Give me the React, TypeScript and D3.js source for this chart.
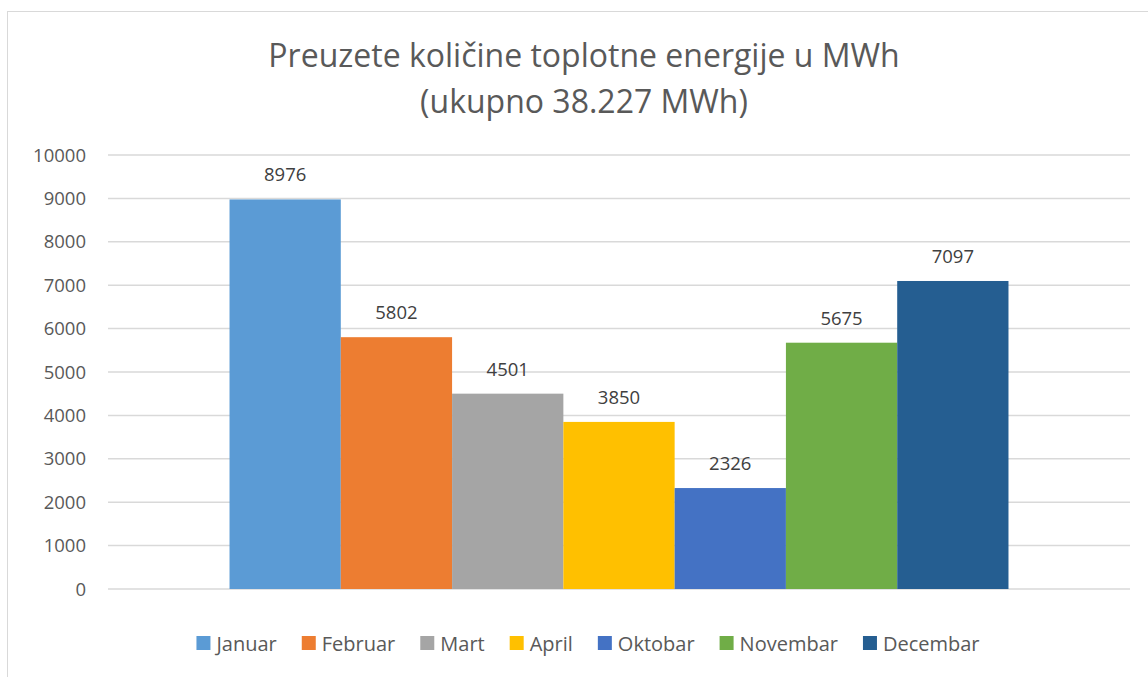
import React, { useRef, useEffect } from "react";
import * as d3 from "d3";

const months = ["Januar", "Februar", "Mart", "April", "Oktobar", "Novembar", "Decembar"];
const values = [8976, 5802, 4501, 3850, 2326, 5675, 7097];
const colors = ["#5B9BD5", "#ED7D31", "#A5A5A5", "#FFC000", "#4472C4", "#70AD47", "#255E91"];
const yTicks = [0, 1000, 2000, 3000, 4000, 5000, 6000, 7000, 8000, 9000, 10000];
const titleLines = ["Preuzete količine toplotne energije u MWh", "(ukupno 38.227 MWh)"];

const W = 1148;
const H = 677;
const FONT = "'Open Sans', 'Liberation Sans', sans-serif";

const App = () => {
  const svgRef = useRef<SVGSVGElement>(null);

  useEffect(() => {
    const svg = d3.select(svgRef.current);
    svg.selectAll("*").remove();

    // chart border
    svg.append("rect")
      .attr("x", 7.5).attr("y", 11.5)
      .attr("width", W).attr("height", H)
      .attr("fill", "#fff").attr("stroke", "#D9D9D9");

    // title
    svg.append("g").selectAll("text")
      .data(titleLines)
      .enter().append("text")
      .attr("x", 584)
      .attr("y", (_, i) => 67 + i * 46)
      .attr("text-anchor", "middle")
      .attr("font-family", FONT)
      .attr("font-size", 32)
      .attr("fill", "#595959")
      .text(d => d);

    // scales
    const y = d3.scaleLinear().domain([0, 10000]).range([589, 155]);
    const xOuter = d3.scaleBand().domain(["all"]).range([108, 1130]).paddingInner(0).paddingOuter(0.156);
    const x = d3.scaleBand().domain(months).range([xOuter("all")!, xOuter("all")! + xOuter.bandwidth()]);

    // gridlines
    svg.append("g").selectAll("line")
      .data(yTicks)
      .enter().append("line")
      .attr("x1", 108).attr("x2", 1130)
      .attr("y1", d => y(d)).attr("y2", d => y(d))
      .attr("stroke", "#D9D9D9").attr("stroke-width", 1.5);

    // y tick labels
    svg.append("g").selectAll("text")
      .data(yTicks)
      .enter().append("text")
      .attr("x", 86)
      .attr("y", d => y(d) + 6.5)
      .attr("text-anchor", "end")
      .attr("font-family", FONT)
      .attr("font-size", 18.5)
      .attr("fill", "#595959")
      .text(d => d);

    // bars
    svg.append("g").selectAll("rect")
      .data(values)
      .enter().append("rect")
      .attr("x", (_, i) => x(months[i])!)
      .attr("width", x.bandwidth())
      .attr("y", d => y(d))
      .attr("height", d => y(0) - y(d))
      .attr("fill", (_, i) => colors[i]);

    // value labels
    svg.append("g").selectAll("text")
      .data(values)
      .enter().append("text")
      .attr("x", (_, i) => x(months[i])! + x.bandwidth() / 2)
      .attr("y", d => y(d) - 18)
      .attr("text-anchor", "middle")
      .attr("font-family", FONT)
      .attr("font-size", 18.5)
      .attr("fill", "#404040")
      .text(d => d);

    // legend
    const legend = svg.append("g");
    const items = legend.selectAll("g")
      .data(months)
      .enter().append("g");
    items.append("rect")
      .attr("width", 14).attr("height", 14)
      .attr("y", 636)
      .attr("fill", (_, i) => colors[i]);
    const labels = items.append("text")
      .attr("x", 20)
      .attr("y", 650.5)
      .attr("font-family", FONT)
      .attr("font-size", 20)
      .attr("fill", "#595959")
      .text(d => d);
    const widths = labels.nodes().map(n => (n as SVGTextElement).getComputedTextLength() + 20);
    const gap = 25;
    const total = d3.sum(widths) + gap * (widths.length - 1);
    let cx = 588 - total / 2;
    items.attr("transform", (_, i) => {
      const t = `translate(${cx},0)`;
      cx += widths[i] + gap;
      return t;
    });
  }, []);

  return (
    <div>
      <svg
        ref={svgRef}
        width={W}
        height={H}
        style={{ position: "absolute", left: 0, top: 0, display: "block" }}
      />
    </div>
  );
};

export default App;
